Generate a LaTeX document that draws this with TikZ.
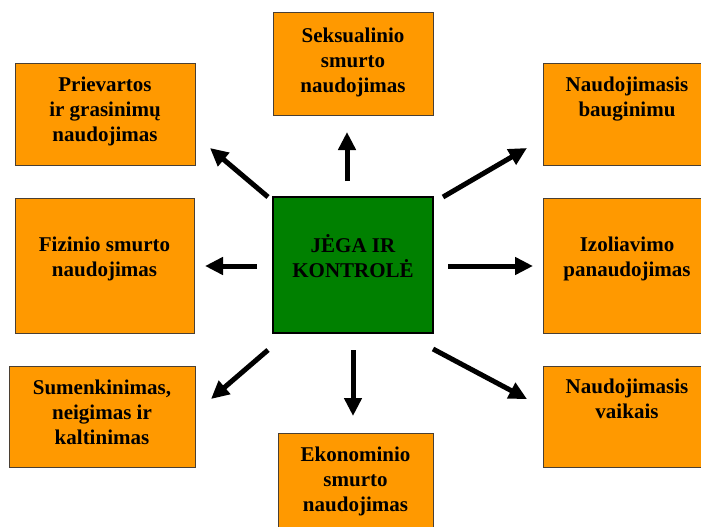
\documentclass[tikz,border=0pt]{standalone}
\usepackage{fontspec}
\setmainfont{Liberation Serif}
\usetikzlibrary{arrows.meta}
\definecolor{boxorange}{HTML}{FF9900}
\definecolor{boxedge}{HTML}{4A3F33}
\definecolor{centergreen}{HTML}{008000}
\tikzset{
  obox/.style={draw=boxedge, line width=1pt, fill=boxorange, rectangle, inner sep=0pt},
  gbox/.style={draw=black, line width=2.5pt, fill=centergreen, rectangle, inner sep=0pt},
  txt/.style={font=\bfseries\fontsize{21}{25}\selectfont, align=center, inner sep=0pt, anchor=north, text=black},
  bigarrow/.style={line width=5pt, -{Triangle[length=18pt,width=17pt]}}
}
\begin{document}
\begin{tikzpicture}[x=1pt,y=-1pt]
\useasboundingbox (0,0) rectangle (701,527);
\clip (0,0) rectangle (701,527);
% boxes
\node[obox, minimum width=160pt, minimum height=102pt] (top) at (353,64) {};
\node[obox, minimum width=180pt, minimum height=101pt] (tl) at (105,114.5) {};
\node[obox, minimum width=168pt, minimum height=101pt] (tr) at (627,114.5) {};
\node[obox, minimum width=179pt, minimum height=135pt] (ml) at (104.5,265.5) {};
\node[obox, minimum width=168pt, minimum height=135pt] (mr) at (627,265.5) {};
\node[gbox, minimum width=160pt, minimum height=136pt] (ctr) at (353,265) {};
\node[obox, minimum width=186pt, minimum height=101pt] (bl) at (102,416.5) {};
\node[obox, minimum width=168pt, minimum height=101pt] (br) at (627,416.5) {};
\node[obox, minimum width=155pt, minimum height=112pt] (bot) at (355.5,489) {};
% texts
\node[txt] (ttop) at ([yshift=-15pt]top.north) {Seksualinio\\smurto\\naudojimas};
\node[txt] (ttl) at ([yshift=-13pt]tl.north) {Prievartos\\ir grasinimų\\naudojimas};
\node[txt] (ttr) at ([yshift=-13pt]tr.north) {Naudojimasis\\bauginimu};
\node[txt] (tml) at ([yshift=-39pt]ml.north) {Fizinio smurto\\naudojimas};
\node[txt] (tmr) at ([yshift=-39pt]mr.north) {Izoliavimo\\panaudojimas};
\node[txt] (tctr) at ([yshift=-39pt]ctr.north) {JĖGA IR\\KONTROLĖ};
\node[txt] (tbl) at ([yshift=-14pt]bl.north) {Sumenkinimas,\\neigimas ir\\kaltinimas};
\node[txt] (tbr) at ([yshift=-13pt]br.north) {Naudojimasis\\vaikais};
\node[txt] (tbot) at ([yshift=-14pt]bot.north) {Ekonominio\\smurto\\naudojimas};
% arrow end points
\coordinate (upS) at (347,181);  \coordinate (upE) at (347,132);
\coordinate (dnS) at (353,350);  \coordinate (dnE) at (353,416);
\coordinate (lfS) at (257,266);  \coordinate (lfE) at (205,266);
\coordinate (rtS) at (448,266);  \coordinate (rtE) at (533,266);
\coordinate (ulS) at (268,197);  \coordinate (ulE) at (210,148);
\coordinate (urS) at (443,197);  \coordinate (urE) at (527,148);
\coordinate (dlS) at (268,350);  \coordinate (dlE) at (211,399);
\coordinate (drS) at (433,349);  \coordinate (drE) at (527,399);
% arrows
\draw[bigarrow] (upS) -- (upE);
\draw[bigarrow] (dnS) -- (dnE);
\draw[bigarrow] (lfS) -- (lfE);
\draw[bigarrow] (rtS) -- (rtE);
\draw[bigarrow] (ulS) -- (ulE);
\draw[bigarrow] (urS) -- (urE);
\draw[bigarrow] (dlS) -- (dlE);
\draw[bigarrow] (drS) -- (drE);
\end{tikzpicture}
\end{document}
